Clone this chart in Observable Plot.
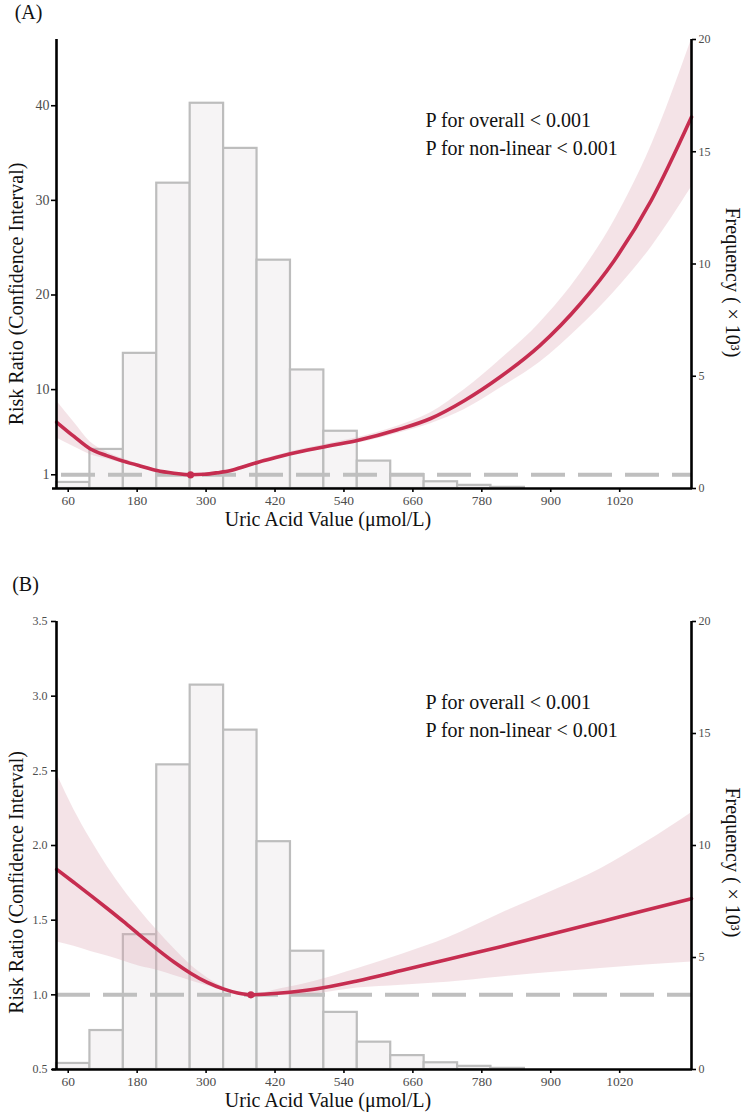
<!DOCTYPE html>
<html>
<head>
<meta charset="utf-8">
<script src="https://cdn.jsdelivr.net/npm/d3@7"></script>
<script src="https://cdn.jsdelivr.net/npm/@observablehq/plot@0.6"></script>
<style>
  body { margin: 0; background: #fff; }
  #chart svg { display: block; font-family: 'Liberation Serif', 'Times New Roman', serif; }
  #chart svg text { font-family: 'Liberation Serif', 'Times New Roman', serif; }
</style>
</head>
<body>
<div id="chart"></div>
<script>
// ---- Panel A: restricted cubic spline, risk ratio vs uric acid ----
const uricA   = [40, 70, 98, 127, 156, 185, 214, 244, 273, 297, 320, 343, 372, 401, 430, 459, 517, 563, 633, 691, 750, 813, 880, 952, 1010, 1075, 1145];
const rrA     = [6.55, 5.05, 3.75, 3.02, 2.44, 1.93, 1.45, 1.16, 1.0, 1.05, 1.22, 1.45, 1.98, 2.51, 2.97, 3.39, 4.09, 4.62, 5.75, 6.95, 8.85, 11.38, 14.6, 19.1, 23.6, 30.0, 38.8];
const rrHighA = [8.8, 6.55, 4.5, 3.42, 2.69, 2.08, 1.53, 1.19, 1.0, 1.08, 1.29, 1.55, 2.11, 2.66, 3.14, 3.59, 4.34, 4.92, 6.13, 7.55, 10.0, 13.2, 17.0, 22.3, 27.8, 35.8, 47];
const rrLowA  = [4.9, 3.95, 3.15, 2.67, 2.22, 1.8, 1.38, 1.13, 1.0, 1.02, 1.15, 1.35, 1.85, 2.36, 2.8, 3.19, 3.84, 4.32, 5.37, 6.4, 7.9, 10.2, 12.85, 16.7, 20.3, 25.05, 31.4];
const refA = 273;

// ---- Panel B ----
const uricB   = [40, 70, 99, 128, 157, 186, 215, 244, 273, 302, 331, 355, 378, 430, 488, 563, 640, 720, 813, 900, 987, 1065, 1145];
const rrB     = [1.84, 1.752, 1.666, 1.578, 1.488, 1.395, 1.305, 1.22, 1.145, 1.083, 1.038, 1.012, 1.0, 1.012, 1.037, 1.093, 1.163, 1.237, 1.322, 1.405, 1.49, 1.567, 1.644];
const rrHighB = [2.48, 2.24, 2.04, 1.86, 1.70, 1.56, 1.43, 1.31, 1.20, 1.115, 1.05, 1.015, 1.0, 1.04, 1.09, 1.175, 1.27, 1.38, 1.545, 1.69, 1.845, 2.02, 2.22];
const rrLowB  = [1.354, 1.325, 1.29, 1.26, 1.225, 1.19, 1.165, 1.13, 1.095, 1.06, 1.025, 1.008, 1.0, 0.996, 1.005, 1.045, 1.065, 1.085, 1.12, 1.15, 1.176, 1.20, 1.22];
const refB = 378;

// ---- Distribution of uric acid (histogram, frequency in thousands) ----
const binEdges = [39.6, 97.8, 156.0, 214.1, 272.3, 330.5, 388.7, 446.9, 505.0, 563.2, 621.4, 679.6, 737.8, 795.9, 854.1, 912.3, 970.5, 1028.7, 1086.8, 1145];
const freqK = [0.27, 1.74, 6.02, 13.6, 17.16, 15.15, 10.17, 5.28, 2.55, 1.22, 0.62, 0.3, 0.14, 0.05, 0, 0, 0, 0, 0];

// ---- Axes and labels ----
const xDomain = [39.6, 1145];
const xTicks = [60, 180, 300, 420, 540, 660, 780, 900, 1020];
const yTicksA = [1, 10, 20, 30, 40];
const yTicksB = [0.5, 1.0, 1.5, 2.0, 2.5, 3.0, 3.5];
const freqTicks = [0, 5, 10, 15, 20];
const pLabels = ["P for overall < 0.001", "P for non-linear < 0.001"];
const xTitle = "Uric Acid Value (\u03bcmol/L)";
const yTitle = "Risk Ratio (Confidence Interval)";
const freqTitle = "Frequency ( \u00d7 10\u00b3)";

const RED = "#c62d50";
const FONT = "'Liberation Serif', 'Times New Roman', serif";

function panel(cfg) {
  const [y0, y1] = cfg.yDomain;
  // frequency (0–20 thousand) shares the vertical extent of the risk-ratio axis
  const fromFreq = f => y0 + (f / 20) * (y1 - y0);
  const toFreq = v => ((v - y0) / (y1 - y0)) * 20;

  const bars = freqK
    .map((f, i) => ({x1: binEdges[i], x2: binEdges[i + 1], base: fromFreq(0), top: fromFreq(f)}))
    .filter((d, i) => freqK[i] > 0);
  const curve = cfg.uric.map((u, i) => ({u, rr: cfg.rr[i], lo: cfg.lo[i], hi: cfg.hi[i]}));

  const label = (t, o) => Plot.text([t], {text: d => d, fontFamily: FONT, fontSize: 20, fill: "#111",
    textAnchor: "middle", lineAnchor: "middle", ...o});

  return Plot.plot({
    width: 743,
    height: cfg.height,
    marginTop: cfg.marginTop,
    marginBottom: cfg.marginBottom,
    marginLeft: 56,
    marginRight: 52,
    style: `font-family: ${FONT}; background: #fff; color: #111;`,
    x: {domain: xDomain, axis: null},
    y: {domain: cfg.yDomain, axis: null},
    marks: [
      Plot.rect(bars, {x1: "x1", x2: "x2", y1: "base", y2: "top", fill: "#f6f4f5", stroke: "#bdbdbd", strokeWidth: 2.2}),
      Plot.ruleY([1], {stroke: "#bfbfbf", strokeWidth: 4, strokeDasharray: "34,13", strokeDashoffset: cfg.dashOffset}),
      Plot.areaY(curve, {x: "u", y1: "lo", y2: "hi", fill: "#d9a3b0", fillOpacity: 0.3, curve: "monotone-x"}),
      Plot.lineY(curve, {x: "u", y: "rr", stroke: RED, strokeWidth: 3.6, curve: "monotone-x"}),
      Plot.dot([cfg.ref], {x: d => d, y: () => 1, r: 3.6, fill: RED}),
      // axis lines
      Plot.ruleX([xDomain[0]], {stroke: "#000", strokeWidth: 2.6}),
      Plot.ruleX([xDomain[1]], {stroke: "#000", strokeWidth: 2.6}),
      Plot.ruleY([y0], {stroke: "#000", strokeWidth: 2.6, insetLeft: -4, insetRight: -1}),
      // ticks
      Plot.axisY(cfg.yTicks, {
        anchor: "left", label: null, tickSize: 5, tickPadding: cfg.leftPad,
        tickFormat: cfg.tickFormat, fontSize: cfg.leftFont, fontFamily: FONT,
        stroke: "#000", strokeWidth: 1.6, fill: "#4d4d4d"
      }),
      Plot.axisY(freqTicks.map(fromFreq), {
        anchor: "right", label: null, tickSize: 4, tickPadding: 3,
        tickFormat: v => String(Math.round(toFreq(v))), fontSize: 12, fontFamily: FONT,
        stroke: "#000", strokeWidth: 1.6, fill: "#4d4d4d"
      }),
      Plot.axisX(xTicks, {
        anchor: "bottom", label: null, tickSize: 4, tickPadding: 3,
        tickFormat: d => String(d), fontSize: 13.5, fontFamily: FONT,
        stroke: "#000", strokeWidth: 1.6, fill: "#4d4d4d"
      }),
      // titles
      label(cfg.tag, {frameAnchor: "top-left", dx: cfg.tagDx, dy: cfg.tagDy}),
      label(yTitle, {frameAnchor: "left", rotate: -90, dx: -40, dy: cfg.yTitleDy}),
      label(freqTitle, {frameAnchor: "right", rotate: 90, dx: 41, dy: cfg.fTitleDy}),
      label(xTitle, {frameAnchor: "bottom", dx: -46, dy: 31}),
      ...pLabels.map((t, i) => label(t, {frameAnchor: "top-left", textAnchor: "start", dx: 369, dy: 81 + i * 28.5}))
    ]
  });
}

const chart = document.getElementById("chart");
chart.append(panel({
  tag: "(A)", tagDx: -28, tagDy: -27,
  height: 548, marginTop: 39, marginBottom: 60,
  yDomain: [-0.45, 47], yTicks: yTicksA, tickFormat: d => String(d),
  leftFont: 14, leftPad: 2, yTitleDy: 30, fTitleDy: 18.5, dashOffset: -5,
  uric: uricA, rr: rrA, lo: rrLowA, hi: rrHighA, ref: refA
}));
chart.append(panel({
  tag: "(B)", tagDx: -31, tagDy: -37,
  height: 571, marginTop: 73, marginBottom: 50,
  yDomain: [0.5, 3.5], yTicks: yTicksB, tickFormat: d => d.toFixed(1),
  leftFont: 12, leftPad: 4, yTitleDy: 37, fTitleDy: 17, dashOffset: 0,
  uric: uricB, rr: rrB, lo: rrLowB, hi: rrHighB, ref: refB
}));
</script>
</body>
</html>
